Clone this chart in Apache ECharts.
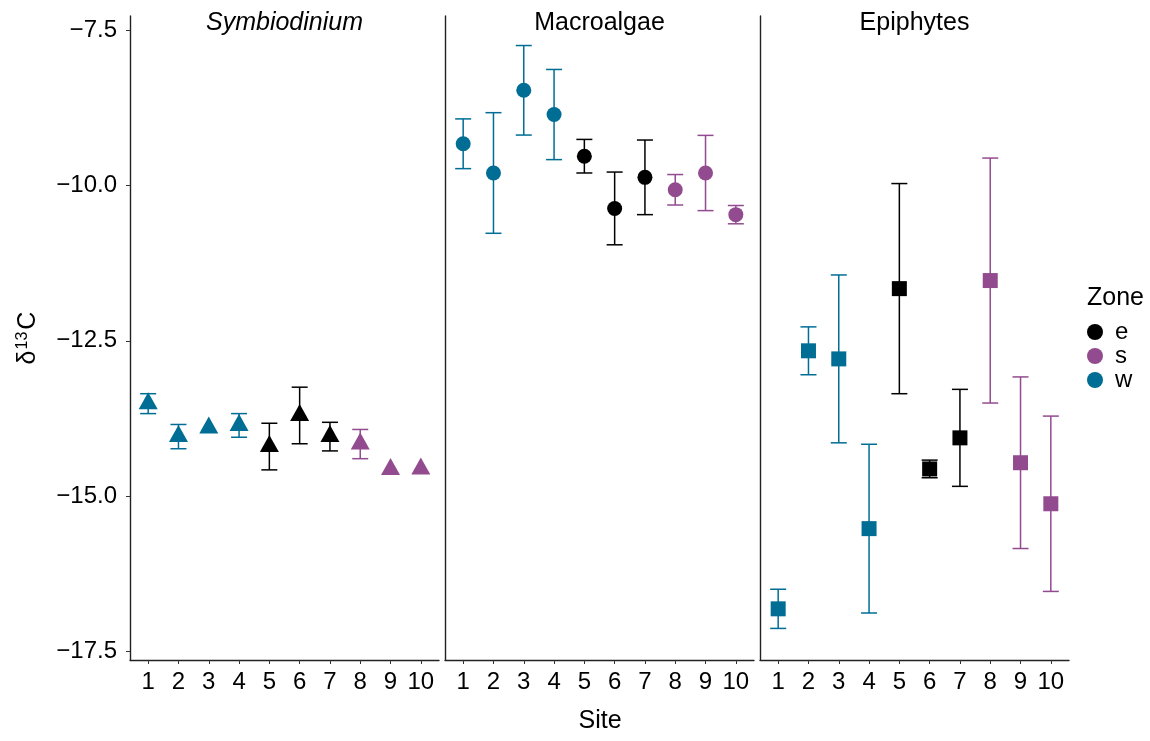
<!DOCTYPE html>
<html>
<head>
<meta charset="utf-8">
<script src="https://cdn.jsdelivr.net/npm/echarts@6/dist/echarts.min.js"></script>
<style>
html,body{margin:0;padding:0;background:#fff;}
#chart{width:1150px;height:741px;}
</style>
</head>
<body>
<div id="chart"></div>
<script>
// ---- data ----
const sites = [1, 2, 3, 4, 5, 6, 7, 8, 9, 10];
const siteZone = ['w', 'w', 'w', 'w', 'e', 'e', 'e', 's', 's', 's'];
const zones = ['e', 's', 'w'];
const panelNames = ['Symbiodinium', 'Macroalgae', 'Epiphytes'];
const yTicks = [-17.5, -15, -12.5, -10, -7.5];

// sd = 0 means no error bar shown
const symbMean = [-13.51, -14.04, -13.90, -13.86, -14.20, -13.70, -14.04, -14.16, -14.57, -14.56];
const symbSd   = [0.16, 0.195, 0, 0.19, 0.375, 0.455, 0.23, 0.235, 0, 0];

const macroMean = [-9.33, -9.80, -8.47, -8.86, -9.53, -10.37, -9.87, -10.07, -9.80, -10.47];
const macroSd   = [0.40, 0.97, 0.72, 0.725, 0.27, 0.585, 0.60, 0.245, 0.605, 0.147];

const epiMean = [-16.81, -12.66, -12.79, -15.52, -11.66, -14.56, -14.06, -11.53, -14.46, -15.12];
const epiSd   = [0.315, 0.385, 1.35, 1.357, 1.69, 0.142, 0.78, 1.97, 1.38, 1.41];

// ---- styling ----
const zoneColor = { e: '#000000', s: '#924B8F', w: '#006D95' };
const FONT = 'Liberation Sans, Arial, Helvetica, sans-serif';
const panelMeans = [symbMean, macroMean, epiMean];
const panelSds = [symbSd, macroSd, epiSd];
const panelSymbols = [
  { symbol: 'triangle', size: [19, 17], offset: [0, -3] },
  { symbol: 'circle', size: 15, offset: [0, 0] },
  { symbol: 'rect', size: 15, offset: [0, 0] }
];
const gridLefts = [130, 445, 760];
const gridW = 309, gridTop = 16, gridH = 644;
const yMin = -17.633, yMax = -7.275;
const TICK_FS = 24, TITLE_FS = 25;

function fmt(v) {
  return (v < 0 ? '\u2212' : '') + Math.abs(v).toFixed(1);
}

const grids = [], xAxes = [], yAxes = [], series = [];
for (let p = 0; p < 3; p++) {
  grids.push({ left: gridLefts[p], top: gridTop, width: gridW, height: gridH, containLabel: false });
  xAxes.push({
    type: 'value', gridIndex: p, min: 0.4, max: 10.6,
    splitLine: { show: false },
    axisLine: { show: true, onZero: false, lineStyle: { color: '#222', width: 1.4 } },
    axisTick: { show: true, customValues: sites, length: 4, lineStyle: { color: '#333', width: 1 } },
    axisLabel: { customValues: sites, fontSize: TICK_FS, color: '#000', fontFamily: FONT, margin: 10,
      formatter: v => String(v) }
  });
  yAxes.push({
    type: 'value', gridIndex: p, min: yMin, max: yMax,
    splitLine: { show: false },
    axisLine: { show: true, onZero: false, lineStyle: { color: '#222', width: 1.4 } },
    axisTick: { show: p === 0, customValues: yTicks, length: 4, lineStyle: { color: '#333', width: 1 } },
    axisLabel: { show: p === 0, customValues: yTicks, fontSize: TICK_FS, color: '#000', fontFamily: FONT, margin: 13,
      formatter: v => fmt(v) }
  });

  zones.forEach(z => {
    const idx = sites.map((s, i) => i).filter(i => siteZone[i] === z && panelSds[p][i] > 0);
    const errData = idx.map(i => [sites[i], panelMeans[p][i] - panelSds[p][i], panelMeans[p][i] + panelSds[p][i]]);
    series.push({
      name: z + '-err',
      type: 'custom',
      xAxisIndex: p, yAxisIndex: p,
      z: 2,
      silent: true,
      data: errData,
      renderItem: function (params, api) {
        const x = api.value(0);
        const lo = api.coord([x, api.value(1)]);
        const hi = api.coord([x, api.value(2)]);
        const hw = 8;
        const st = { stroke: zoneColor[z], lineWidth: 1.5 };
        return {
          type: 'group',
          children: [
            { type: 'line', shape: { x1: lo[0], y1: lo[1], x2: hi[0], y2: hi[1] }, style: st },
            { type: 'line', shape: { x1: lo[0] - hw, y1: lo[1], x2: lo[0] + hw, y2: lo[1] }, style: st },
            { type: 'line', shape: { x1: hi[0] - hw, y1: hi[1], x2: hi[0] + hw, y2: hi[1] }, style: st }
          ]
        };
      }
    });
  });
}
for (let p = 0; p < 3; p++) {
  zones.forEach(z => {
    const idx = sites.map((s, i) => i).filter(i => siteZone[i] === z);
    series.push({
      name: z,
      type: 'scatter',
      xAxisIndex: p, yAxisIndex: p,
      z: 5,
      symbol: panelSymbols[p].symbol,
      symbolSize: panelSymbols[p].size,
      symbolOffset: panelSymbols[p].offset,
      itemStyle: { color: zoneColor[z], opacity: 1 },
      emphasis: { disabled: true },
      data: idx.map(i => [sites[i], panelMeans[p][i]])
    });
  });
}

const graphics = [];
panelNames.forEach((n, p) => {
  graphics.push({
    type: 'text', x: gridLefts[p] + gridW / 2, y: 23,
    style: { text: n, fontSize: TITLE_FS, fontFamily: FONT, fontStyle: p === 0 ? 'italic' : 'normal',
      fill: '#000', textAlign: 'center', textVerticalAlign: 'middle' }
  });
});
graphics.push({
  type: 'text', x: 600, y: 721,
  style: { text: 'Site', fontSize: TITLE_FS, fontFamily: FONT, fill: '#000', textAlign: 'center', textVerticalAlign: 'middle' }
});
graphics.push({
  type: 'text', x: 28, y: 338, rotation: Math.PI / 2,
  style: {
    text: '\u03B4{sup|13}C', fontSize: TITLE_FS, fontFamily: FONT, fill: '#000',
    textAlign: 'center', textVerticalAlign: 'middle',
    rich: { sup: { fontSize: 16, fontFamily: FONT, fill: '#000', verticalAlign: 'top', padding: [0, 2, 11, 1] } }
  }
});
graphics.push({
  type: 'text', x: 1087, y: 298,
  style: { text: 'Zone', fontSize: TITLE_FS, fontFamily: FONT, fill: '#000', textAlign: 'left', textVerticalAlign: 'middle' }
});

const chart = echarts.init(document.getElementById('chart'), null, { renderer: 'canvas' });
chart.setOption({
  animation: false,
  backgroundColor: '#fff',
  grid: grids,
  xAxis: xAxes,
  yAxis: yAxes,
  legend: {
    data: zones.map(z => ({ name: z, icon: 'circle' })),
    orient: 'vertical',
    left: 1087, top: 320,
    padding: 0,
    itemWidth: 16, itemHeight: 16, itemGap: 0,
    selectedMode: false,
    textStyle: { fontSize: TICK_FS, lineHeight: 24, height: 24, fontFamily: FONT, color: '#000', padding: [0, 0, 0, 7] }
  },
  graphic: graphics,
  series: series
});
</script>
</body>
</html>
